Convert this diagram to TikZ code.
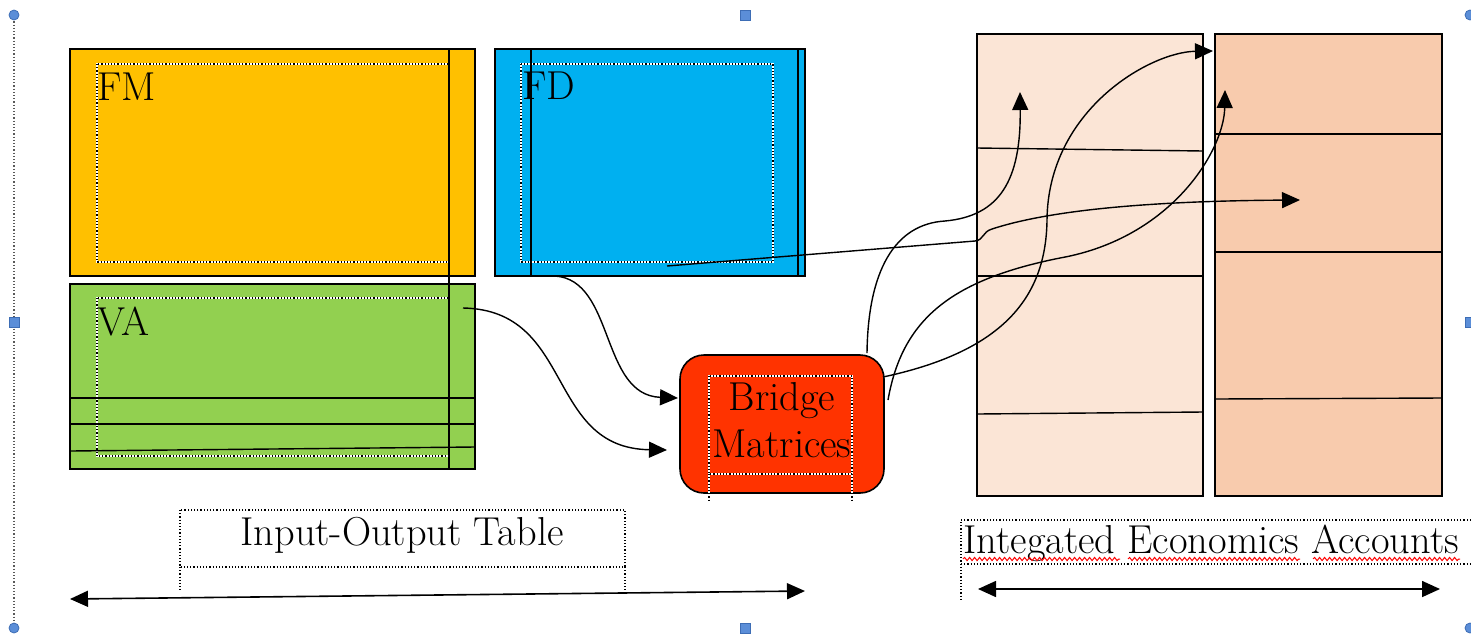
\documentclass[tikz,border=0pt]{standalone}
\usetikzlibrary{arrows.meta,decorations.pathmorphing}
\definecolor{fmcol}{HTML}{FFC000}
\definecolor{vacol}{HTML}{92D050}
\definecolor{fdcol}{HTML}{00B0F0}
\definecolor{bmcol}{HTML}{FF3300}
\definecolor{ieaA}{HTML}{FBE5D6}
\definecolor{ieaB}{HTML}{F8CBAD}
\definecolor{hdlfill}{HTML}{5B8ED8}
\definecolor{hdldraw}{HTML}{3D6DB5}
\begin{document}
\begin{tikzpicture}[x=0.5pt,y=-0.5pt,
  rectbox/.style={draw=black, line width=0.8pt, inner sep=0pt, outer sep=0pt, anchor=north west},
  thin line/.style={draw=black, line width=0.7pt},
  dotframe/.style={preaction={draw=white, solid, line width=0.6pt}, draw=black, densely dotted, line width=0.6pt},
  lbl/.style={font=\fontsize{20.2}{24}\selectfont, inner sep=0pt},
  conn/.style={draw=black, line width=0.7pt, -{Triangle[length=9pt,width=8pt]}},
  dconn/.style={draw=black, line width=0.8pt, {Triangle[length=9pt,width=8pt]}-{Triangle[length=9pt,width=8pt]}},
  hdl/.style={fill=hdlfill, draw=hdldraw, line width=0.4pt},
  wavy/.style={draw=red, line width=0.5pt, decorate, decoration={snake, segment length=2.5pt, amplitude=0.8pt}}
]
\useasboundingbox (0,0) rectangle (1471,633);

% selection frame
\draw[gray!70!black, densely dotted, line width=0.6pt] (14,15) -- (14,628);

% Input-Output table blocks
\node[rectbox, fill=fmcol, minimum width=202.5pt, minimum height=113.5pt] (FM) at (70,49) {};
\node[rectbox, fill=vacol, minimum width=202.5pt, minimum height=92.5pt] (VA) at (70,284) {};
\node[rectbox, fill=fdcol, minimum width=155pt, minimum height=113.5pt] (FD) at (495,49) {};

\draw[dotframe] (97,64) rectangle (449,262);
\draw[dotframe] (97,298) rectangle (449,456);
\draw[dotframe] (521,64) rectangle (773,262);

\draw[thin line] (449,49) -- (449,470);
\draw[thin line] (70,398) -- (475,398);
\draw[thin line] (70,424) -- (475,424);
\draw[thin line] (70,451) -- (475,447);
\draw[thin line] (531,49) -- (531,276);
\draw[thin line] (798,49) -- (798,276);

\node[lbl, anchor=base west] (fmlbl) at (97,100) {FM};
\node[lbl, anchor=base west] (valbl) at (97,335) {VA};
\node[lbl, anchor=base west] (fdlbl) at (522,99) {FD};

% Bridge matrices
\node[rectbox, fill=bmcol, rounded corners=12pt, minimum width=102pt, minimum height=69pt] (BM) at (680,355) {};
\draw[dotframe] (709,376) rectangle (852,474);
\draw[dotframe] (709,474) -- (709,502);
\draw[dotframe] (852,474) -- (852,502);
\node[lbl, anchor=base] (bm1) at (782,410) {Bridge};
\node[lbl, anchor=base] (bm2) at (782,457) {Matrices};

% Integrated accounts columns
\node[rectbox, fill=ieaA, minimum width=113pt, minimum height=231pt] (IA) at (977,34) {};
\node[rectbox, fill=ieaB, minimum width=113.5pt, minimum height=231pt] (IB) at (1215,34) {};
\draw[thin line] (977,148) -- (1203,151);
\draw[thin line] (977,276) -- (1203,276);
\draw[thin line] (977,414) -- (1203,412);
\draw[thin line] (1215,134) -- (1442,134);
\draw[thin line] (1215,252) -- (1442,252);
\draw[thin line] (1215,399) -- (1442,398);

% connector end points
\coordinate (fdout) at (555,276);
\coordinate (vaout) at (463,308);
\coordinate (bmin1) at (678,398);
\coordinate (bmin2) at (667,450);
\coordinate (bmtop) at (867,353);
\coordinate (bmr1) at (883,377);
\coordinate (bmr2) at (888,400);
\coordinate (fdline) at (667,266);
\coordinate (tA) at (1020,92);
\coordinate (tB) at (1213,51);
\coordinate (tC) at (1225,90);
\coordinate (tD) at (1300,200);

\draw[conn] (fdout) .. controls (615,280) and (600,395) .. (bmin1);
\draw[conn] (vaout) .. controls (575,310) and (545,448) .. (bmin2);
\draw[conn] (bmtop) .. controls (868,270) and (895,224) .. (945,221) .. controls (1000,216) and (1021,180) .. (tA);
\draw[conn] (bmr1) .. controls (1000,352) and (1046,300) .. (1047,220) .. controls (1048,110) and (1150,52) .. (tB);
\draw[conn] (bmr2) .. controls (902,320) and (950,280) .. (1060,258) .. controls (1172,238) and (1224,150) .. (tC);
\draw[conn] (fdline) -- (975,241) .. controls (984,240) and (982,232) .. (992,229) .. controls (1050,210) and (1150,201) .. (tD);

% Input-Output Table label
\draw[dotframe] (180,510) rectangle (625,567);
\draw[dotframe] (180,567) -- (180,590);
\draw[dotframe] (625,567) -- (625,590);
\node[lbl, anchor=base] (iolbl) at (402,545) {Input-Output Table};
\coordinate (ioL) at (70,599);
\coordinate (ioR) at (805,591);
\draw[dconn] (ioL) -- (ioR);

% Integated Economics Accounts label
\draw[dotframe] (1471,520) -- (961,520) -- (961,600);
\draw[dotframe] (961,564) -- (1471,564);
\node[lbl, anchor=base west] (iealbl) at (963,553) {Integated Economics Accounts};
\draw[wavy] (963,559) -- (1120,559);
\draw[wavy] (1128,559) -- (1300,559);
\draw[wavy] (1313,559) -- (1460,559);
\coordinate (ieaL) at (978,589);
\coordinate (ieaR) at (1440,589);
\draw[dconn] (ieaL) -- (ieaR);

% selection handles
\filldraw[hdl] (14,15) circle (5);
\filldraw[hdl] (14,628) circle (5);
\filldraw[hdl] (1470,15) circle (5);
\filldraw[hdl] (1470,628) circle (5);
\filldraw[hdl] (740,10) rectangle (750,20);
\filldraw[hdl] (740,623) rectangle (750,633);
\filldraw[hdl] (9,317) rectangle (19,327);
\filldraw[hdl] (1465,317) rectangle (1475,327);
\end{tikzpicture}
\end{document}
